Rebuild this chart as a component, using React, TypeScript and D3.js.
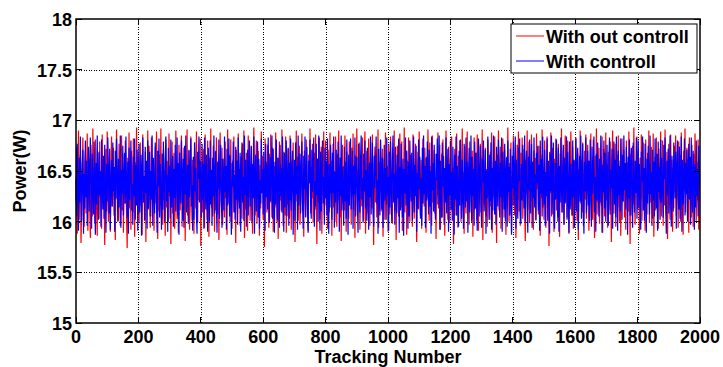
import React from "react";
import * as d3 from "d3";

// Sampling interval of the tracking index between stored readings
const STEP = 2;

// Power readings (W) without control
const withoutControl: number[] = [
  16.21, 16.74, 15.88, 16.53, 16.90, 16.02, 16.37, 16.66, 15.79, 16.12, 16.45, 16.83, 16.29, 15.95, 16.58, 16.70, 16.08, 16.41, 16.87, 15.91,
  16.33, 16.62, 16.17, 15.84, 16.76, 16.49, 16.05, 16.92, 16.26, 16.38, 15.98, 16.81, 16.55, 16.14, 15.86, 16.68, 16.43, 16.03, 16.79, 16.24,
  16.50, 15.93, 16.86, 16.19, 16.61, 16.35, 15.77, 16.47, 16.72, 16.10, 16.89, 16.28, 16.00, 16.64, 16.40, 15.90, 16.57, 16.84, 16.15, 16.31,
  16.73, 16.06, 16.44, 15.82, 16.60, 16.91, 16.22, 16.36, 16.01, 16.77, 16.52, 15.96, 16.25, 16.85, 16.11, 16.67, 15.89, 16.48, 16.18, 16.80,
  16.39, 16.04, 15.74, 16.63, 16.27, 16.88, 16.13, 16.54, 15.92, 16.70, 16.46, 16.09, 16.82, 16.32, 15.85, 16.59, 16.20, 16.93, 16.42, 16.07,
  16.65, 15.99, 16.34, 16.78, 16.16, 16.51, 15.87, 16.86, 16.23, 16.44, 16.02, 16.69, 15.80, 16.56, 16.30, 16.90, 16.12, 16.75, 16.38, 15.94,
  16.48, 16.83, 16.05, 16.27, 16.62, 15.91, 16.41, 16.74, 16.18, 16.89, 16.35, 15.83, 16.57, 16.10, 16.66, 16.29, 16.92, 16.03, 16.50, 15.97,
  16.71, 16.22, 16.45, 15.86, 16.81, 16.14, 16.60, 16.37, 16.00, 16.87, 16.25, 16.53, 15.78, 16.43, 16.79, 16.08, 16.33, 16.68, 15.93, 16.16,
  16.90, 16.47, 16.03, 16.58, 15.89, 16.76, 16.31, 16.11, 16.64, 16.85, 15.95, 16.39, 16.20, 16.73, 16.49, 15.81, 16.56, 16.28, 16.91, 16.06,
  16.36, 16.70, 15.92, 16.17, 16.84, 16.42, 16.01, 16.61, 16.26, 15.88, 16.78, 16.52, 16.13, 16.89, 16.34, 15.99, 16.67, 16.21, 16.46, 16.82,
  15.76, 16.30, 16.59, 16.09, 16.72, 16.44, 15.94, 16.86, 16.19, 16.55, 16.02, 16.80, 16.38, 15.85, 16.63, 16.25, 16.92, 16.14, 16.48, 16.05,
  16.75, 16.32, 15.90, 16.69, 16.11, 16.83, 16.40, 16.07, 16.57, 15.82, 16.27, 16.88, 16.50, 16.15, 16.73, 15.97, 16.35, 16.62, 16.04, 16.79,
  16.23, 16.54, 15.87, 16.91, 16.43, 16.18, 16.66, 16.00, 16.81, 16.29, 15.93, 16.60, 16.37, 16.84, 16.10, 16.47, 15.79, 16.71, 16.33, 16.08,
  16.87, 16.20, 16.52, 15.96, 16.64, 16.41, 16.03, 16.77, 16.28, 16.90, 15.84, 16.45, 16.12, 16.68, 16.36, 15.91, 16.85, 16.24, 16.58, 16.01,
  16.39, 16.74, 16.16, 15.88, 16.61, 16.93, 16.31, 16.06, 16.50, 16.80, 15.98, 16.22, 16.70, 16.44, 15.86, 16.56, 16.13, 16.89, 16.34, 16.65,
  16.02, 16.47, 15.75, 16.82, 16.26, 16.59, 16.09, 16.76, 16.38, 15.94, 16.67, 16.19, 16.86, 16.42, 16.04, 16.73, 15.90, 16.30, 16.55, 16.14,
  16.88, 16.35, 16.00, 16.63, 15.83, 16.48, 16.79, 16.21, 16.57, 16.11, 16.91, 16.27, 15.96, 16.69, 16.40, 16.06, 16.84, 15.89, 16.51, 16.17,
  16.72, 16.43, 16.03, 16.85, 16.29, 15.92, 16.60, 16.37, 16.78, 16.13, 16.53, 15.80, 16.46, 16.90, 16.20, 16.64, 16.01, 16.33, 16.75, 15.97,
  16.25, 16.58, 16.87, 16.10, 16.44, 15.85, 16.70, 16.32, 16.05, 16.81, 16.49, 16.15, 15.91, 16.66, 16.38, 16.92, 16.08, 16.54, 16.23, 16.77,
  15.99, 16.41, 16.68, 16.12, 16.86, 16.30, 15.78, 16.62, 16.19, 16.47, 16.83, 16.02, 16.36, 16.74, 15.88, 16.56, 16.26, 16.89, 16.07, 16.45,
  16.80, 16.16, 16.52, 15.93, 16.71, 16.34, 16.09, 16.88, 16.28, 16.60, 15.86, 16.43, 16.77, 16.14, 16.50, 16.00, 16.84, 16.31, 15.95, 16.67,
  16.21, 16.90, 16.39, 16.04, 16.63, 15.81, 16.48, 16.76, 16.18, 16.55, 16.11, 16.85, 16.33, 15.90, 16.69, 16.24, 16.46, 16.03, 16.79, 16.37,
  16.58, 15.97, 16.73, 16.27, 16.87, 16.12, 16.44, 15.84, 16.65, 16.35, 16.92, 16.06, 16.51, 16.20, 16.78, 15.92, 16.40, 16.61, 16.15, 16.83,
  16.30, 16.01, 16.57, 16.89, 15.88, 16.42, 16.70, 16.23, 16.08, 16.82, 16.47, 15.96, 16.64, 16.36, 16.13, 16.86, 16.25, 15.77, 16.53, 16.74,
  16.19, 16.66, 16.04, 16.38, 16.91, 15.94, 16.59, 16.29, 16.80, 16.10, 16.45, 16.72, 15.85, 16.32, 16.62, 16.02, 16.88, 16.41, 16.17, 16.55,
  15.90, 16.76, 16.34, 16.07, 16.84, 16.49, 16.22, 15.98, 16.68, 16.43, 16.90, 16.11, 16.56, 15.82, 16.37, 16.75, 16.26, 16.05, 16.63, 16.87,
  16.31, 16.14, 16.79, 15.91, 16.52, 16.28, 16.93, 16.09, 16.45, 16.70, 15.87, 16.60, 16.18, 16.83, 16.39, 16.00, 16.66, 16.24, 16.48, 15.95,
  16.86, 16.35, 16.03, 16.57, 16.77, 16.20, 15.80, 16.44, 16.69, 16.12, 16.89, 16.33, 16.06, 16.61, 15.93, 16.50, 16.82, 16.27, 16.15, 16.73,
  16.40, 15.89, 16.64, 16.23, 16.91, 16.46, 16.01, 16.78, 16.30, 16.55, 15.96, 16.85, 16.19, 16.42, 16.71, 16.08, 16.36, 15.83, 16.60, 16.26,
  16.88, 16.13, 16.51, 16.76, 15.92, 16.34, 16.67, 16.04, 16.81, 16.47, 16.21, 15.86, 16.58, 16.90, 16.16, 16.43, 16.02, 16.74, 16.37, 15.99,
  16.62, 16.25, 16.84, 16.10, 16.53, 15.78, 16.41, 16.72, 16.29, 16.06, 16.87, 16.38, 15.94, 16.65, 16.17, 16.80, 16.45, 16.00, 16.56, 16.92,
  16.20, 16.49, 15.88, 16.75, 16.32, 16.08, 16.63, 16.89, 16.14, 16.40, 15.97, 16.79, 16.27, 16.54, 16.03, 16.70, 15.85, 16.44, 16.83, 16.12,
  16.36, 16.68, 16.01, 16.86, 16.23, 15.91, 16.57, 16.31, 16.77, 16.09, 16.48, 16.91, 15.82, 16.62, 16.18, 16.39, 16.73, 16.05, 16.52, 15.95,
  16.81, 16.28, 16.46, 16.02, 16.69, 16.15, 16.88, 15.89, 16.35, 16.60, 16.24, 16.84, 16.07, 16.42, 15.79, 16.66, 16.33, 16.90, 16.11, 16.50,
  16.74, 15.93, 16.41, 16.19, 16.82, 16.55, 16.04, 16.71, 16.30, 15.87, 16.64, 16.13, 16.93, 16.37, 16.00, 16.58, 16.26, 16.78, 15.90, 16.45,
  16.16, 16.85, 16.34, 16.06, 16.59, 15.84, 16.47, 16.76, 16.22, 16.89, 16.10, 16.53, 15.96, 16.68, 16.29, 16.83, 16.03, 16.40, 16.72, 16.18,
  15.81, 16.61, 16.27, 16.90, 16.12, 16.44, 16.79, 15.99, 16.56, 16.35, 16.86, 16.08, 16.49, 15.92, 16.70, 16.21, 16.63, 16.01, 16.87, 16.32,
  16.53, 16.07, 16.75, 16.38, 15.86, 16.66, 16.23, 16.91, 16.14, 16.45, 16.02, 16.80, 16.31, 15.94, 16.57, 16.84, 16.19, 16.42, 15.76, 16.69,
  16.28, 16.88, 16.05, 16.50, 16.73, 16.17, 15.90, 16.62, 16.39, 16.82, 16.11, 16.46, 16.00, 16.77, 16.25, 15.85, 16.67, 16.33, 16.92, 16.09,
  16.43, 16.71, 15.97, 16.36, 16.85, 16.20, 16.55, 16.04, 16.80, 16.30, 15.88, 16.64, 16.15, 16.89, 16.48, 16.06, 16.74, 15.93, 16.37, 16.60,
  16.13, 16.83, 16.41, 16.01, 16.68, 15.82, 16.52, 16.27, 16.90, 16.18, 16.61, 16.09, 16.78, 15.96, 16.34, 16.70, 16.22, 16.86, 16.03, 16.47,
  16.76, 16.24, 15.91, 16.58, 16.35, 16.87, 16.12, 16.44, 16.02, 16.81, 16.29, 15.84, 16.65, 16.40, 16.92, 16.07, 16.53, 16.19, 16.73, 15.98,
  16.32, 16.63, 16.16, 16.84, 15.89, 16.49, 16.72, 16.05, 16.38, 16.88, 16.21, 16.57, 15.94, 16.69, 16.11, 16.45, 16.79, 16.26, 15.80, 16.62,
  16.90, 16.37, 16.08, 16.54, 16.77, 15.95, 16.42, 16.66, 16.14, 16.85, 16.31, 16.00, 16.60, 15.86, 16.50, 16.82, 16.20, 16.39, 16.71, 16.04,
  16.46, 15.92, 16.80, 16.25, 16.59, 16.10, 16.89, 16.33, 15.78, 16.67, 16.43, 16.06, 16.75, 16.17, 16.93, 16.28, 15.97, 16.55, 16.36, 16.84,
  16.12, 16.70, 16.41, 15.88, 16.63, 16.23, 16.86, 16.01, 16.48, 16.78, 16.15, 16.52, 15.91, 16.81, 16.35, 16.07, 16.68, 16.27, 16.90, 15.99,
  16.57, 16.19, 16.74, 16.44, 16.03, 16.87, 15.85, 16.38, 16.64, 16.11, 16.83, 16.30, 16.56, 15.93, 16.72, 16.22, 16.47, 16.89, 16.05, 16.34,
  16.80, 15.96, 16.51, 16.16, 16.91, 16.40, 16.08, 16.69, 15.83, 16.45, 16.77, 16.24, 16.02, 16.86, 16.31, 16.61, 15.90, 16.53, 16.13, 16.75,
  16.29, 16.85, 16.06, 16.58, 16.37, 15.94, 16.79, 16.20, 16.66, 16.00, 16.88, 16.42, 16.14, 15.87, 16.70, 16.32, 16.92, 16.09, 16.49, 16.73,
  16.18, 16.62, 15.89, 16.83, 16.26, 16.46, 16.04, 16.76, 16.35, 15.95, 16.67, 16.11, 16.87, 16.39, 16.01, 16.59, 16.21, 16.81, 15.92, 16.44,
];

// Power readings (W) with control
const withControl: number[] = [
  16.42, 16.05, 16.77, 16.28, 15.91, 16.63, 16.19, 16.84, 16.36, 16.01, 16.55, 16.71, 15.88, 16.47, 16.13, 16.80, 16.24, 16.60, 15.96, 16.38,
  16.74, 16.10, 16.52, 16.83, 16.22, 15.93, 16.67, 16.31, 16.07, 16.79, 16.45, 15.87, 16.58, 16.17, 16.85, 16.33, 16.02, 16.69, 16.26, 16.50,
  15.95, 16.81, 16.40, 16.12, 16.65, 16.03, 16.76, 16.29, 15.89, 16.57, 16.20, 16.83, 16.44, 16.08, 16.72, 15.92, 16.35, 16.61, 16.15, 16.78,
  16.30, 16.54, 15.90, 16.70, 16.23, 16.82, 16.46, 16.00, 16.62, 16.14, 16.39, 16.85, 15.94, 16.51, 16.27, 16.75, 16.06, 16.43, 16.68, 16.18,
  16.84, 16.32, 16.04, 16.59, 15.88, 16.73, 16.21, 16.48, 16.80, 16.11, 16.37, 15.97, 16.64, 16.25, 16.82, 16.02, 16.56, 16.16, 16.71, 15.91,
  16.41, 16.77, 16.09, 16.34, 16.66, 15.86, 16.53, 16.83, 16.19, 16.45, 16.01, 16.74, 16.28, 16.60, 15.93, 16.80, 16.13, 16.38, 16.69, 16.05,
  16.50, 16.22, 16.85, 15.96, 16.63, 16.31, 16.08, 16.78, 16.43, 16.16, 15.89, 16.70, 16.35, 16.82, 16.04, 16.57, 16.26, 15.92, 16.67, 16.12,
  16.79, 16.40, 16.00, 16.61, 16.84, 16.20, 16.46, 15.90, 16.73, 16.29, 16.55, 16.03, 16.81, 16.14, 16.37, 16.65, 15.95, 16.52, 16.23, 16.76,
  16.10, 16.44, 16.83, 16.06, 16.58, 15.87, 16.68, 16.33, 16.18, 16.80, 16.47, 16.01, 16.62, 15.94, 16.75, 16.27, 16.85, 16.09, 16.39, 16.56,
  15.98, 16.71, 16.24, 16.49, 16.82, 16.15, 16.36, 15.91, 16.64, 16.02, 16.78, 16.30, 16.53, 16.07, 15.88, 16.69, 16.42, 16.84, 16.19, 16.60,
  16.34, 16.04, 16.77, 16.21, 16.57, 15.93, 16.83, 16.45, 16.12, 16.66, 16.28, 15.90, 16.73, 16.38, 16.00, 16.80, 16.17, 16.51, 15.96, 16.63,
  16.25, 16.85, 16.08, 16.43, 16.70, 16.14, 15.89, 16.59, 16.32, 16.81, 16.03, 16.48, 16.76, 16.20, 15.94, 16.62, 16.37, 16.11, 16.84, 16.29,
  16.55, 15.92, 16.72, 16.16, 16.40, 16.82, 16.05, 16.65, 16.27, 15.87, 16.58, 16.35, 16.79, 16.09, 16.46, 16.02, 16.74, 16.22, 16.60, 15.97,
  16.83, 16.31, 16.13, 16.68, 15.90, 16.50, 16.78, 16.19, 16.44, 16.01, 16.85, 16.26, 16.61, 15.95, 16.39, 16.71, 16.06, 16.54, 16.80, 16.15,
  16.36, 16.75, 16.00, 16.57, 16.23, 16.84, 15.88, 16.47, 16.66, 16.10, 16.33, 16.79, 16.04, 16.62, 15.93, 16.41, 16.18, 16.82, 16.28, 16.52,
  16.07, 16.69, 16.43, 15.91, 16.77, 16.24, 16.56, 16.12, 16.83, 16.35, 15.99, 16.64, 16.20, 16.49, 16.85, 16.03, 16.72, 16.30, 15.89, 16.59,
  16.17, 16.81, 16.37, 16.02, 16.63, 16.44, 15.94, 16.76, 16.25, 16.53, 16.09, 16.84, 16.31, 15.90, 16.68, 16.14, 16.45, 16.80, 16.05, 16.39,
  16.73, 15.96, 16.58, 16.21, 16.82, 16.11, 16.48, 16.70, 15.87, 16.34, 16.61, 16.01, 16.78, 16.27, 16.55, 15.92, 16.85, 16.16, 16.42, 16.67,
  16.08, 16.50, 16.79, 16.19, 15.93, 16.65, 16.32, 16.84, 16.04, 16.46, 16.74, 16.13, 15.89, 16.60, 16.38, 16.81, 16.22, 16.03, 16.71, 16.29,
  16.56, 16.83, 15.95, 16.40, 16.15, 16.77, 16.26, 16.62, 16.00, 16.85, 16.35, 15.91, 16.69, 16.10, 16.52, 16.80, 16.18, 16.44, 15.97, 16.73,
  16.23, 16.60, 16.06, 16.82, 16.33, 15.88, 16.57, 16.14, 16.76, 16.42, 16.02, 16.68, 16.28, 16.84, 15.94, 16.49, 16.19, 16.71, 16.37, 16.08,
  16.79, 16.45, 15.90, 16.63, 16.25, 16.85, 16.11, 16.54, 16.31, 15.96, 16.74, 16.20, 16.59, 16.03, 16.81, 16.36, 15.87, 16.66, 16.16, 16.47,
  16.82, 16.12, 16.39, 16.70, 15.93, 16.55, 16.27, 16.83, 16.05, 16.48, 16.64, 16.17, 15.89, 16.77, 16.34, 16.09, 16.61, 16.85, 16.22, 16.43,
  15.99, 16.67, 16.30, 16.80, 16.13, 16.51, 16.01, 16.73, 16.40, 15.92, 16.58, 16.24, 16.84, 16.07, 16.46, 16.78, 16.15, 15.95, 16.65, 16.33,
  16.57, 16.84, 16.18, 16.41, 15.88, 16.72, 16.29, 16.06, 16.81, 16.50, 16.12, 16.63, 15.94, 16.38, 16.76, 16.21, 16.53, 16.02, 16.83, 16.26,
  16.44, 15.91, 16.69, 16.14, 16.79, 16.35, 16.00, 16.60, 16.85, 16.19, 16.47, 15.97, 16.74, 16.30, 16.08, 16.66, 16.23, 16.82, 15.89, 16.54,
  16.11, 16.77, 16.42, 16.04, 16.62, 15.86, 16.52, 16.28, 16.83, 16.16, 16.70, 16.37, 15.93, 16.59, 16.05, 16.80, 16.45, 16.20, 16.68, 16.01,
  16.36, 16.84, 16.09, 16.56, 16.25, 16.75, 15.90, 16.48, 16.13, 16.81, 16.32, 16.64, 16.03, 16.43, 15.96, 16.73, 16.18, 16.85, 16.27, 16.55,
  15.94, 16.63, 16.21, 16.79, 16.39, 16.07, 16.71, 16.15, 16.50, 15.88, 16.84, 16.31, 16.58, 16.10, 16.76, 16.24, 16.02, 16.67, 16.41, 16.82,
  16.17, 16.46, 16.85, 15.92, 16.60, 16.29, 16.04, 16.78, 16.35, 16.65, 15.97, 16.53, 16.19, 16.83, 16.08, 16.44, 16.72, 15.90, 16.57, 16.26,
  16.80, 16.12, 16.49, 16.01, 16.74, 16.38, 15.87, 16.66, 16.22, 16.84, 16.06, 16.55, 16.30, 15.95, 16.70, 16.16, 16.81, 16.43, 16.03, 16.61,
  16.28, 15.93, 16.77, 16.41, 16.14, 16.83, 16.20, 16.59, 15.89, 16.47, 16.73, 16.09, 16.36, 16.85, 16.00, 16.64, 16.25, 16.52, 15.96, 16.79,
  16.13, 16.68, 16.32, 15.91, 16.56, 16.82, 16.05, 16.44, 16.75, 16.18, 15.94, 16.62, 16.39, 16.80, 16.10, 16.27, 16.71, 15.88, 16.50, 16.23,
  16.84, 16.37, 16.02, 16.66, 16.20, 16.78, 15.92, 16.53, 16.11, 16.85, 16.46, 16.07, 16.60, 15.97, 16.74, 16.31, 16.15, 16.81, 16.42, 16.04,
  16.58, 16.24, 16.83, 15.90, 16.69, 16.35, 16.12, 16.77, 16.01, 16.48, 16.63, 15.95, 16.80, 16.29, 16.54, 16.06, 16.72, 16.19, 15.87, 16.65,
  16.33, 16.79, 16.16, 16.45, 16.84, 15.93, 16.61, 16.26, 16.03, 16.73, 16.40, 16.82, 16.09, 15.98, 16.57, 16.21, 16.76, 16.36, 16.13, 16.85,
  16.00, 16.52, 16.70, 16.18, 15.89, 16.64, 16.31, 16.81, 16.08, 16.43, 16.77, 15.94, 16.59, 16.23, 16.83, 16.14, 16.47, 16.02, 16.68, 16.38,
  16.75, 16.11, 16.56, 15.91, 16.80, 16.27, 16.62, 16.05, 16.84, 16.34, 16.17, 16.71, 15.96, 16.49, 16.25, 16.82, 16.01, 16.60, 16.41, 15.88,
  16.67, 16.30, 16.85, 16.07, 16.45, 16.78, 16.14, 15.93, 16.58, 16.22, 16.81, 16.39, 16.04, 16.73, 15.90, 16.55, 16.19, 16.83, 16.32, 16.09,
  16.50, 16.76, 15.97, 16.63, 16.18, 16.44, 16.84, 16.02, 16.69, 16.28, 15.89, 16.79, 16.12, 16.57, 16.35, 16.06, 16.80, 16.24, 16.61, 15.94,
  16.40, 16.82, 16.10, 16.53, 16.73, 15.92, 16.36, 16.65, 16.20, 16.85, 16.03, 16.47, 16.77, 16.15, 15.88, 16.59, 16.30, 16.83, 16.08, 16.42,
  16.70, 16.16, 16.60, 16.01, 16.81, 16.38, 15.95, 16.74, 16.27, 16.52, 16.84, 16.09, 16.44, 15.90, 16.67, 16.21, 16.78, 16.34, 16.05, 16.62,
  16.19, 16.85, 16.45, 15.89, 16.56, 16.29, 16.80, 16.13, 16.68, 16.00, 16.41, 16.76, 16.22, 15.96, 16.63, 16.83, 16.07, 16.51, 16.33, 16.72,
  15.93, 16.48, 16.79, 16.17, 16.61, 16.04, 16.84, 16.35, 15.91, 16.70, 16.26, 16.55, 16.10, 16.82, 16.43, 16.02, 16.66, 16.20, 16.85, 16.31,
  16.58, 16.12, 16.74, 16.39, 15.87, 16.64, 16.23, 16.81, 16.06, 16.50, 16.73, 16.16, 15.94, 16.78, 16.37, 16.09, 16.60, 16.28, 16.83, 16.03,
  16.46, 16.80, 16.14, 16.57, 16.25, 15.92, 16.69, 16.40, 16.84, 16.11, 16.53, 16.01, 16.77, 16.32, 15.89, 16.62, 16.18, 16.75, 16.44, 16.07,
  16.85, 16.27, 16.49, 15.96, 16.71, 16.21, 16.59, 16.05, 16.82, 16.36, 16.13, 16.67, 15.91, 16.79, 16.29, 16.54, 16.02, 16.81, 16.19, 16.63,
  16.34, 16.04, 16.76, 16.42, 16.83, 16.15, 15.88, 16.60, 16.26, 16.72, 16.08, 16.47, 16.85, 16.20, 15.95, 16.65, 16.38, 16.10, 16.78, 16.51,
  16.23, 16.69, 15.93, 16.55, 16.80, 16.31, 16.12, 16.74, 16.03, 16.45, 16.84, 15.90, 16.61, 16.17, 16.39, 16.82, 16.06, 16.58, 16.27, 16.71,
  16.00, 16.43, 16.77, 16.22, 16.64, 15.97, 16.83, 16.35, 16.09, 16.70, 16.49, 15.92, 16.57, 16.14, 16.80, 16.25, 16.52, 16.05, 16.75, 16.37,
];

const xTicks = [0, 200, 400, 600, 800, 1000, 1200, 1400, 1600, 1800, 2000];
const yTicks = [15, 15.5, 16, 16.5, 17, 17.5, 18];
const seriesNames = ["With out controll", "With controll"];

const W = 723;
const H = 367;
const plot = { left: 76, right: 700, top: 19, bottom: 323 };
const FONT = "'Liberation Sans', Arial, Helvetica, sans-serif";

export default function App() {
  const x = d3.scaleLinear().domain([0, 2000]).range([plot.left, plot.right]);
  const y = d3.scaleLinear().domain([15, 18]).range([plot.bottom, plot.top]);

  const line = d3
    .line<number>()
    .x((_, i) => x(i * STEP))
    .y((v) => y(v));

  const tickLen = 6;
  const lx = 511;
  const ly = 24;

  return (
    <svg
      width={W}
      height={H}
      style={{ position: "absolute", left: 0, top: 0, background: "#fff" }}
      fontFamily={FONT}
      fontWeight="bold"
    >
      <rect x={0} y={0} width={W} height={H} fill="#fff" />

      {/* dotted grid */}
      <g stroke="#000" strokeWidth={1} strokeDasharray="1,1.5" shapeRendering="crispEdges">
        {xTicks.slice(1, -1).map((t) => (
          <line key={"gx" + t} x1={Math.round(x(t)) + 0.5} x2={Math.round(x(t)) + 0.5} y1={plot.top} y2={plot.bottom} />
        ))}
        {yTicks.slice(1, -1).map((t) => (
          <line key={"gy" + t} x1={plot.left} x2={plot.right} y1={Math.round(y(t)) + 0.5} y2={Math.round(y(t)) + 0.5} />
        ))}
      </g>

      {/* data */}
      <path d={line(withoutControl) ?? ""} fill="none" stroke="#ff0000" strokeWidth={1.2} strokeLinejoin="miter" />
      <path d={line(withControl) ?? ""} fill="none" stroke="#0000ff" strokeWidth={1.2} strokeLinejoin="miter" />

      {/* inward ticks on all sides */}
      <g stroke="#000" strokeWidth={1} shapeRendering="crispEdges">
        {xTicks.map((t) => (
          <g key={"tx" + t}>
            <line x1={x(t)} x2={x(t)} y1={plot.bottom} y2={plot.bottom - tickLen} />
            <line x1={x(t)} x2={x(t)} y1={plot.top} y2={plot.top + tickLen} />
          </g>
        ))}
        {yTicks.map((t) => (
          <g key={"ty" + t}>
            <line x1={plot.left} x2={plot.left + tickLen} y1={y(t)} y2={y(t)} />
            <line x1={plot.right} x2={plot.right - tickLen} y1={y(t)} y2={y(t)} />
          </g>
        ))}
      </g>

      {/* frame */}
      <rect
        x={plot.left}
        y={plot.top}
        width={plot.right - plot.left}
        height={plot.bottom - plot.top}
        fill="none"
        stroke="#000"
        strokeWidth={1.5}
      />

      {/* tick labels */}
      <g fontSize={18} fill="#000">
        {xTicks.map((t) => (
          <text key={"lx" + t} x={x(t)} y={342.5} textAnchor="middle">
            {t}
          </text>
        ))}
        {yTicks.map((t) => (
          <text key={"ly" + t} x={plot.left - 4} y={y(t) + 7} textAnchor="end">
            {t}
          </text>
        ))}
      </g>

      {/* axis titles */}
      <text x={(plot.left + plot.right) / 2} y={363} textAnchor="middle" fontSize={18}>
        Tracking Number
      </text>
      <text
        transform={`translate(26, ${(plot.top + plot.bottom) / 2}) rotate(-90)`}
        textAnchor="middle"
        fontSize={18}
      >
        Power(W)
      </text>

      {/* legend */}
      <g>
        <rect x={lx} y={ly} width={186} height={49} fill="#fff" stroke="#000" strokeWidth={1} />
        <line x1={lx + 5} x2={lx + 33} y1={ly + 12} y2={ly + 12} stroke="#ff0000" strokeWidth={1} />
        <line x1={lx + 5} x2={lx + 33} y1={ly + 37} y2={ly + 37} stroke="#0000ff" strokeWidth={1} />
        <text x={lx + 35} y={ly + 19} fontSize={18}>
          {seriesNames[0]}
        </text>
        <text x={lx + 35} y={ly + 44} fontSize={18}>
          {seriesNames[1]}
        </text>
      </g>
    </svg>
  );
}
